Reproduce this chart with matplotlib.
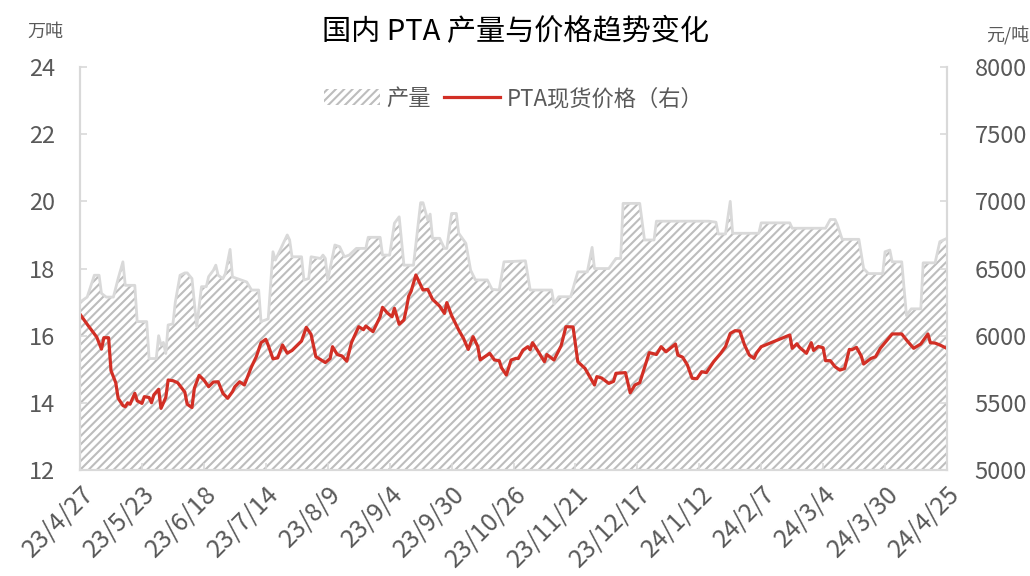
import matplotlib
matplotlib.use("Agg")
import matplotlib.pyplot as plt
from matplotlib.patches import Patch
from matplotlib.lines import Line2D
import pandas as pd

plt.rcParams['font.family'] = ['Noto Sans CJK SC', 'DejaVu Sans']
plt.rcParams['hatch.linewidth'] = 1.5

# PTA output, 万吨 (left axis)
output_dates = [
    "2023-04-27", "2023-04-30", "2023-05-03", "2023-05-05", "2023-05-06", "2023-05-08",
    "2023-05-11", "2023-05-13", "2023-05-15", "2023-05-16", "2023-05-20", "2023-05-21",
    "2023-05-25", "2023-05-26", "2023-05-29", "2023-05-30", "2023-05-31", "2023-06-01",
    "2023-06-02", "2023-06-03", "2023-06-05", "2023-06-06", "2023-06-08", "2023-06-10",
    "2023-06-11", "2023-06-13", "2023-06-15", "2023-06-17", "2023-06-19", "2023-06-20",
    "2023-06-22", "2023-06-23", "2023-06-24", "2023-06-26", "2023-06-27", "2023-06-29",
    "2023-06-30", "2023-07-02", "2023-07-06", "2023-07-08", "2023-07-11", "2023-07-12",
    "2023-07-15", "2023-07-17", "2023-07-18", "2023-07-21", "2023-07-23", "2023-07-24",
    "2023-07-25", "2023-07-29", "2023-07-30", "2023-08-01", "2023-08-02", "2023-08-06",
    "2023-08-07", "2023-08-08", "2023-08-09", "2023-08-12", "2023-08-14", "2023-08-16",
    "2023-08-18", "2023-08-21", "2023-08-25", "2023-08-26", "2023-08-31", "2023-09-01",
    "2023-09-04", "2023-09-06", "2023-09-08", "2023-09-10", "2023-09-14", "2023-09-17",
    "2023-09-18", "2023-09-20", "2023-09-21", "2023-09-22", "2023-09-25", "2023-09-27",
    "2023-09-28", "2023-09-30", "2023-10-02", "2023-10-03", "2023-10-06", "2023-10-08",
    "2023-10-10", "2023-10-15", "2023-10-17", "2023-10-20", "2023-10-22", "2023-10-31",
    "2023-11-02", "2023-11-11", "2023-11-12", "2023-11-14", "2023-11-19", "2023-11-22",
    "2023-11-26", "2023-11-28", "2023-11-29", "2023-12-05", "2023-12-08", "2023-12-10",
    "2023-12-11", "2023-12-18", "2023-12-20", "2023-12-24", "2023-12-25", "2024-01-16",
    "2024-01-19", "2024-01-20", "2024-01-23", "2024-01-25", "2024-01-26", "2024-02-06",
    "2024-02-07", "2024-02-19", "2024-02-20", "2024-03-05", "2024-03-07", "2024-03-09",
    "2024-03-10", "2024-03-12", "2024-03-19", "2024-03-21", "2024-03-23", "2024-03-29",
    "2024-03-30", "2024-04-01", "2024-04-02", "2024-04-06", "2024-04-08", "2024-04-10",
    "2024-04-14", "2024-04-15", "2024-04-20", "2024-04-22", "2024-04-25",
]
output_values = [
    17.0, 17.15, 17.8, 17.8, 17.26, 17.15,
    17.15, 17.7, 18.2, 17.5, 17.5, 16.42,
    16.42, 15.32, 15.32, 16.0, 15.72, 15.8,
    15.47, 16.32, 16.35, 17.0, 17.8, 17.87,
    17.87, 17.7, 16.27, 17.46, 17.46, 17.76,
    17.95, 18.1, 17.8, 17.7, 17.85, 18.57,
    17.75, 17.7, 17.6, 17.36, 17.36, 16.42,
    16.5, 18.5, 18.25, 18.7, 19.0, 18.85,
    18.35, 18.35, 17.66, 17.7, 18.35, 18.3,
    18.4, 18.3, 17.66, 18.7, 18.65, 18.35,
    18.4, 18.6, 18.6, 18.93, 18.93, 18.4,
    18.4, 19.35, 19.54, 18.1, 18.1, 19.96,
    19.96, 19.44, 19.62, 18.9, 18.9, 18.6,
    18.6, 19.64, 19.64, 19.05, 18.75, 17.95,
    17.66, 17.66, 17.38, 17.36, 18.2, 18.23,
    17.36, 17.36, 16.95, 17.16, 17.16, 17.9,
    17.9, 18.63, 18.0, 18.0, 18.3, 18.3,
    19.94, 19.94, 18.85, 18.85, 19.41, 19.41,
    19.38, 19.03, 19.03, 20.0, 19.05, 19.05,
    19.36, 19.36, 19.2, 19.2, 19.46, 19.46,
    19.3, 18.87, 18.87, 18.0, 17.85, 17.85,
    18.5, 18.55, 18.2, 18.2, 16.6, 16.8,
    16.8, 18.17, 18.17, 18.8, 18.9,
]

# PTA spot price, 元/吨 (right axis)
price_dates = [
    "2023-04-27", "2023-04-30", "2023-05-04", "2023-05-06", "2023-05-07", "2023-05-09",
    "2023-05-10", "2023-05-12", "2023-05-13", "2023-05-15", "2023-05-16", "2023-05-17",
    "2023-05-18", "2023-05-20", "2023-05-21", "2023-05-23", "2023-05-24", "2023-05-26",
    "2023-05-27", "2023-05-28", "2023-05-30", "2023-05-31", "2023-06-02", "2023-06-03",
    "2023-06-05", "2023-06-07", "2023-06-10", "2023-06-11", "2023-06-13", "2023-06-14",
    "2023-06-16", "2023-06-18", "2023-06-20", "2023-06-22", "2023-06-24", "2023-06-26",
    "2023-06-28", "2023-06-30", "2023-07-01", "2023-07-03", "2023-07-05", "2023-07-08",
    "2023-07-10", "2023-07-12", "2023-07-14", "2023-07-15", "2023-07-17", "2023-07-19",
    "2023-07-21", "2023-07-23", "2023-07-25", "2023-07-27", "2023-07-29", "2023-07-31",
    "2023-08-02", "2023-08-04", "2023-08-08", "2023-08-10", "2023-08-11", "2023-08-13",
    "2023-08-15", "2023-08-17", "2023-08-19", "2023-08-22", "2023-08-24", "2023-08-25",
    "2023-08-28", "2023-08-31", "2023-09-01", "2023-09-03", "2023-09-05", "2023-09-06",
    "2023-09-08", "2023-09-10", "2023-09-11", "2023-09-12", "2023-09-13", "2023-09-15",
    "2023-09-17", "2023-09-18", "2023-09-20", "2023-09-22", "2023-09-25", "2023-09-27",
    "2023-09-28", "2023-09-30", "2023-10-03", "2023-10-05", "2023-10-06", "2023-10-07",
    "2023-10-09", "2023-10-11", "2023-10-12", "2023-10-15", "2023-10-16", "2023-10-18",
    "2023-10-20", "2023-10-21", "2023-10-23", "2023-10-25", "2023-10-27", "2023-10-28",
    "2023-10-30", "2023-11-01", "2023-11-02", "2023-11-03", "2023-11-05", "2023-11-08",
    "2023-11-09", "2023-11-12", "2023-11-15", "2023-11-17", "2023-11-20", "2023-11-22",
    "2023-11-25", "2023-11-27", "2023-11-29", "2023-11-30", "2023-12-02", "2023-12-05",
    "2023-12-07", "2023-12-08", "2023-12-12", "2023-12-14", "2023-12-16", "2023-12-18",
    "2023-12-22", "2023-12-25", "2023-12-27", "2023-12-29", "2024-01-02", "2024-01-03",
    "2024-01-05", "2024-01-07", "2024-01-09", "2024-01-11", "2024-01-13", "2024-01-15",
    "2024-01-18", "2024-01-21", "2024-01-23", "2024-01-25", "2024-01-27", "2024-01-29",
    "2024-01-31", "2024-02-02", "2024-02-04", "2024-02-05", "2024-02-07", "2024-02-19",
    "2024-02-20", "2024-02-22", "2024-02-23", "2024-02-26", "2024-02-28", "2024-02-29",
    "2024-03-02", "2024-03-04", "2024-03-05", "2024-03-07", "2024-03-09", "2024-03-11",
    "2024-03-13", "2024-03-15", "2024-03-16", "2024-03-18", "2024-03-20", "2024-03-21",
    "2024-03-24", "2024-03-26", "2024-03-28", "2024-04-02", "2024-04-06", "2024-04-08",
    "2024-04-11", "2024-04-14", "2024-04-17", "2024-04-18", "2024-04-20", "2024-04-22",
    "2024-04-25",
]
price_values = [
    6160, 6085, 5990, 5900, 5985, 5985,
    5740, 5650, 5535, 5480, 5471, 5500,
    5490, 5571, 5515, 5496, 5546, 5540,
    5501, 5560, 5601, 5459, 5540, 5670,
    5665, 5650, 5580, 5490, 5465, 5608,
    5705, 5670, 5620, 5655, 5657, 5571,
    5534, 5583, 5620, 5657, 5633, 5769,
    5843, 5948, 5973, 5930, 5828, 5835,
    5931, 5870, 5890, 5925, 5960, 6062,
    6010, 5844, 5800, 5830, 5918, 5860,
    5849, 5810, 5950, 6067, 6045, 6072,
    6030, 6141, 6211, 6170, 6141, 6204,
    6085, 6117, 6200, 6295, 6330, 6452,
    6377, 6340, 6345, 6271, 6220, 6166,
    6246, 6150, 6042, 5980, 5938, 5898,
    5993, 5920, 5820, 5856, 5869, 5819,
    5814, 5760, 5707, 5819, 5831, 5830,
    5893, 5918, 5895, 5948, 5893, 5806,
    5860, 5819, 5925, 6067, 6065, 5806,
    5757, 5695, 5633, 5695, 5685, 5645,
    5660, 5720, 5725, 5575, 5633, 5650,
    5874, 5860, 5918, 5880, 5938, 5856,
    5840, 5782, 5683, 5680, 5732, 5725,
    5806, 5869, 5918, 6017, 6037, 6035,
    5931, 5856, 5831, 5870, 5918, 6005,
    5906, 5940, 5915, 5869, 5948, 5890,
    5920, 5910, 5814, 5814, 5769, 5744,
    5755, 5898, 5895, 5913, 5849, 5789,
    5830, 5843, 5906, 6013, 6013, 5968,
    5906, 5938, 6013, 5948, 5945, 5931,
    5905,
]

tick_dates = [
    "2023-04-27", "2023-05-23", "2023-06-18", "2023-07-14", "2023-08-09",
    "2023-09-04", "2023-09-30", "2023-10-26", "2023-11-21", "2023-12-17",
    "2024-01-12", "2024-02-07", "2024-03-04", "2024-03-30", "2024-04-25",
]
tick_labels = [
    "23/4/27", "23/5/23", "23/6/18", "23/7/14", "23/8/9",
    "23/9/4", "23/9/30", "23/10/26", "23/11/21", "23/12/17",
    "24/1/12", "24/2/7", "24/3/4", "24/3/30", "24/4/25",
]

TEXT = "#595959"
AXIS = "#d9d9d9"
HATCH = "#bdbdbd"
RED = "#d22f25"

out_x = pd.to_datetime(output_dates)
price_x = pd.to_datetime(price_dates)
ticks = pd.to_datetime(tick_dates)

fig = plt.figure(figsize=(10.3, 5.76), dpi=100)
ax = fig.add_axes([0.0777, 0.184, 0.8417, 0.6996])
ax2 = ax.twinx()

ax.fill_between(out_x, output_values, 0, facecolor="white", edgecolor=HATCH,
                hatch="////", linewidth=0)
ax.plot(out_x, output_values, color=AXIS, lw=2)
ax2.plot(price_x, price_values, color=RED, lw=2.3)

ax.set_xlim(ticks[0], ticks[-1])
ax.set_ylim(12, 24)
ax.set_yticks([12, 14, 16, 18, 20, 22, 24])
ax2.set_ylim(5000, 8000)
ax2.set_yticks([5000, 5500, 6000, 6500, 7000, 7500, 8000])

ax.set_xticks(ticks)
ax.set_xticklabels(tick_labels, rotation=45, ha="right", va="top",
                   rotation_mode="anchor")

for a in (ax, ax2):
    for s in a.spines.values():
        s.set_color(AXIS)
        s.set_linewidth(1.5)
    a.spines["top"].set_visible(False)
    a.tick_params(colors=TEXT, labelsize=17, direction="in", length=5,
                  width=1.2, color=AXIS)
ax.tick_params(axis="y", pad=18)
ax2.tick_params(axis="y", pad=20)
ax.tick_params(axis="x", pad=8, labelsize=18)

fig.text(0.5, 0.945, "国内 PTA 产量与价格趋势变化", ha="center", va="center",
         fontsize=21, color="black")
fig.text(0.027, 0.945, "万吨", ha="left", va="center", fontsize=13, color=TEXT)
fig.text(0.999, 0.94, "元/吨", ha="right", va="center", fontsize=13, color=TEXT)

handles = [
    Patch(facecolor="white", edgecolor=HATCH, hatch="////", linewidth=0),
    Line2D([0], [0], color=RED, lw=2.3),
]
ax2.legend(handles, ["产量", "PTA现货价格（右）"], loc="upper center",
           bbox_to_anchor=(0.5, 1.0), ncol=2, frameon=False, fontsize=16,
           labelcolor=TEXT, handlelength=2.5, columnspacing=0.6,
           handletextpad=0.3)

fig.savefig("out.png", dpi=100)
